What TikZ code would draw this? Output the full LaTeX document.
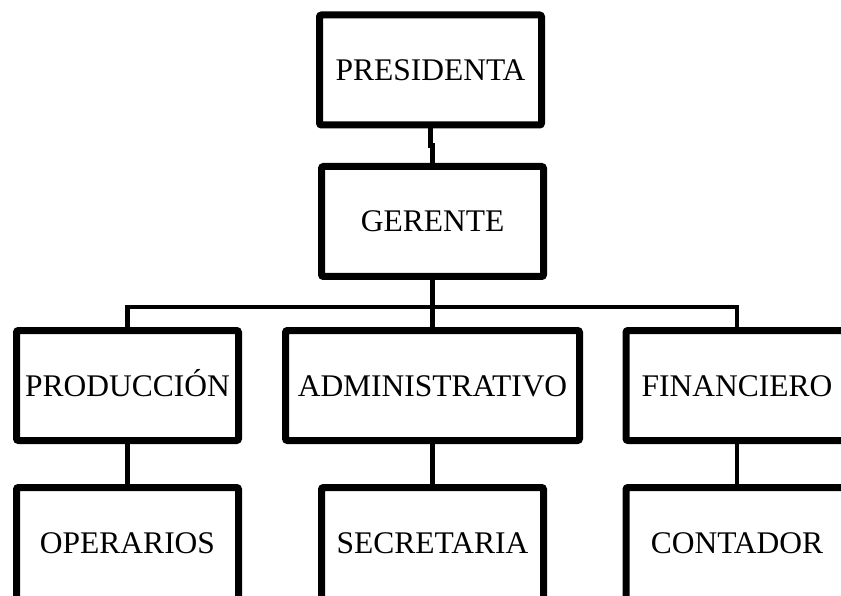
\documentclass[tikz,border=0pt]{standalone}
\usepackage{fontspec}
\setmainfont{Liberation Serif}
\usetikzlibrary{calc,positioning,shadows}

\begin{document}
\begin{tikzpicture}[x=1pt,y=-1pt,
    cargo/.style={draw=black, line width=7pt, rounded corners=2pt, fill=white,
      minimum width=222pt, minimum height=110pt, inner sep=0pt,
      text height=21pt, text depth=0pt,
      font=\fontsize{31.5}{36}\selectfont,
      drop shadow={opacity=0.3, shadow xshift=1.5pt, shadow yshift=-2.5pt}},
    abajo/.style={cargo, minimum height=124pt, text depth=13pt},
    linea/.style={line width=4.5pt}]
        % page
        \useasboundingbox (0,0) rectangle (841,596);
        \clip (0,0) rectangle (841,596);
        % top boxes
        \node[cargo] (pres) at (430.5,70) {PRESIDENTA};
        \node[cargo] (ger) at (432.5,221.5) {GERENTE};
        % departments
        \node[cargo] (prod) at (127.5,385.5) {PRODUCCIÓN};
        \node[cargo, minimum width=294pt] (adm) at (432.5,385.5) {ADMINISTRATIVO};
        \node[cargo] (fin) at (737,385.5) {FINANCIERO};
        % staff
        \node[abajo] (oper) at (127.5,549.5) {OPERARIOS};
        \node[abajo] (sec) at (432.5,549.5) {SECRETARIA};
        \node[abajo] (cont) at (737,549.5) {CONTADOR};
        % lines
        \coordinate (bus) at (432.5,307);
        \draw[linea] (pres.south) |- ($(pres.south)!0.5!(ger.north)$) -| (ger.north);
        \draw[linea] (ger.south) -- (adm.north);
        \draw[linea] (prod.north) |- (bus) -| (fin.north);
        \draw[linea] (prod.south) -- (oper.north);
        \draw[linea] (adm.south) -- (sec.north);
        \draw[linea] (fin.south) -- (cont.north);
      \end{tikzpicture}
\end{document}
